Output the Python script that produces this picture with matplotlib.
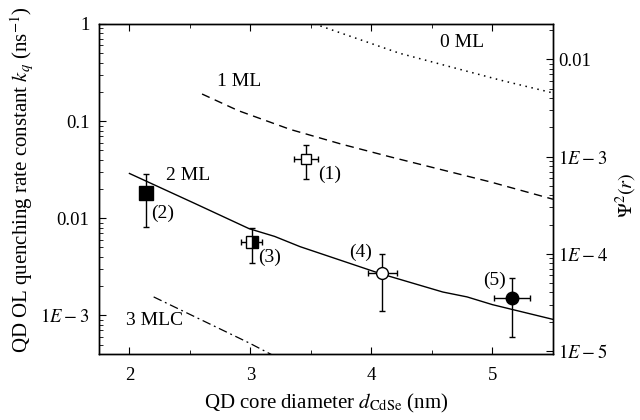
import numpy as np
import matplotlib
matplotlib.use("Agg")
import matplotlib.pyplot as plt
from matplotlib.ticker import LogLocator, NullFormatter, MultipleLocator

plt.rcParams["font.family"] = ["Liberation Serif", "DejaVu Serif"]
plt.rcParams["mathtext.fontset"] = "stix"
plt.rcParams["font.size"] = 14

# model curves (diameter in nm, k_q in ns^-1)
ml0_x = [3.53, 4.23, 5.06, 5.50]
ml0_y = [1.0, 0.50, 0.265, 0.195]
ml1_x = [2.60, 2.90, 3.33, 3.75, 4.15, 4.98, 5.50]
ml1_y = [0.190, 0.128, 0.082, 0.058, 0.043, 0.0237, 0.0157]
ml2_x = [2.00, 2.54, 2.99, 3.20, 3.41, 4.07, 4.59, 4.79, 5.00, 5.50]
ml2_y = [0.0289, 0.0142, 0.0078, 0.0065, 0.0051, 0.0027, 0.00174, 0.00155, 0.00129, 0.00091]
mlc3_x = [2.20, 2.99, 3.20]
mlc3_y = [0.00155, 0.00052, 0.00038]

# measured points
pts_x = [3.46, 2.14, 3.01, 4.09, 5.16]
pts_y = [0.041, 0.018, 0.0057, 0.0027, 0.0015]
pts_ylo = [0.0252, 0.0081, 0.0035, 0.0011, 0.0006]
pts_yhi = [0.0566, 0.0284, 0.0080, 0.0043, 0.0024]
pts_xerr = [0.10, 0.04, 0.085, 0.12, 0.15]
pts_labels = ["(1)", "(2)", "(3)", "(4)", "(5)"]

fig = plt.figure(figsize=(6.4, 4.2), dpi=100)
ax = fig.add_axes([0.155, 0.157, 0.709, 0.786])

ax.plot(ml0_x, ml0_y, color="black", linestyle=(0, (1, 3)), linewidth=1.1)
ax.plot(ml1_x, ml1_y, color="black", linestyle=(0, (6, 4)), linewidth=1.0)
ax.plot(ml2_x, ml2_y, color="black", linestyle="-", linewidth=1.0)
ax.plot(mlc3_x, mlc3_y, color="black", linestyle=(0, (7, 3, 1.5, 3)), linewidth=0.9)

styles = [
    dict(marker="s", ms=7, mfc="white"),
    dict(marker="s", ms=9.5, mfc="black"),
    dict(marker="s", ms=8, mfc="black", fillstyle="right", markerfacecoloralt="white"),
    dict(marker="o", ms=8.5, mfc="white"),
    dict(marker="o", ms=9, mfc="black"),
]
for i in range(len(pts_x)):
    yerr = [[pts_y[i] - pts_ylo[i]], [pts_yhi[i] - pts_y[i]]]
    ax.errorbar([pts_x[i]], [pts_y[i]], yerr=yerr, xerr=[pts_xerr[i]],
                color="black", ecolor="black", mec="black", elinewidth=1.0,
                capsize=2.5, capthick=1.0, linestyle="none", zorder=3, **styles[i])

ax.text(4.57, 0.65, "0 ML", ha="left", va="center")
ax.text(2.72, 0.254, "1 ML", ha="left", va="center")
ax.text(2.30, 0.0273, "2 ML", ha="left", va="center")
ax.text(1.97, 0.00089, "3 MLC", ha="left", va="center")
lab_pos = [(3.56, 0.0284), (2.18, 0.0112), (3.06, 0.0040), (3.815, 0.0045), (4.92, 0.0023)]
for (lx, ly), t in zip(lab_pos, pts_labels):
    ax.text(lx, ly, t, ha="left", va="center")

ax.set_yscale("log")
ax.set_xlim(1.75, 5.5)
ax.set_ylim(4e-4, 1)
ax.set_xticks([2, 3, 4, 5])
ax.xaxis.set_minor_locator(MultipleLocator(0.5))
ax.set_yticks([1e-3, 1e-2, 1e-1, 1])
ax.set_yticklabels([r"$1E-3$", "0.01", "0.1", "1"])
ax.yaxis.set_minor_locator(LogLocator(base=10, subs=np.arange(2, 10)))
ax.yaxis.set_minor_formatter(NullFormatter())
ax.tick_params(which="both", direction="in", top=True, right=False, labelsize=13.5)
ax.tick_params(which="major", length=5)
ax.tick_params(which="minor", length=3)
ax.tick_params(axis="y", which="both", pad=7)
ax.tick_params(axis="x", which="both", pad=9)

ax.set_xlabel(r"QD core diameter $d_{\mathrm{CdSe}}$ (nm)", fontsize=15, labelpad=6)
fig.text(22 / 640, 0.571, r"QD OL quenching rate constant $k_q$ (ns$^{-1}$)",
         fontsize=15, rotation=90, ha="center", va="center")

ax2 = ax.twinx()
ax2.set_yscale("log")
ax2.set_ylim(4e-4 * 0.0232, 1 * 0.0232)
ax2.set_yticks([1e-5, 1e-4, 1e-3, 1e-2])
ax2.set_yticklabels([r"$1E-5$", r"$1E-4$", r"$1E-3$", "0.01"])
ax2.yaxis.set_minor_locator(LogLocator(base=10, subs=np.arange(2, 10)))
ax2.yaxis.set_minor_formatter(NullFormatter())
ax2.tick_params(which="both", direction="in", labelsize=13.5)
ax2.tick_params(which="major", length=5)
ax2.tick_params(which="minor", length=3)
fig.text(626 / 640, 1 - 195 / 420, r"$\Psi^2(r)$", fontsize=14.5,
         rotation=90, ha="center", va="center")

for a in (ax, ax2):
    for s in a.spines.values():
        s.set_linewidth(1.0)

fig.savefig("out.png", dpi=100)
